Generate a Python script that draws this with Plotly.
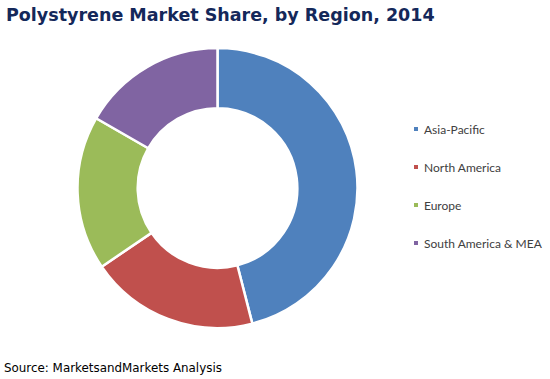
import plotly.graph_objects as go

regions = ["Asia-Pacific", "North America", "Europe", "South America & MEA"]
shares = [46.0, 19.5, 17.8, 16.7]
colors = ["#4F81BD", "#C0504D", "#9BBB59", "#8064A2"]
title_text = "Polystyrene Market Share, by Region, 2014"
source_text = "Source: MarketsandMarkets Analysis"

W, H = 550, 379
cx, cy, r = 217.5, 188, 140

fig = go.Figure(go.Pie(
    labels=regions, values=shares, marker=dict(colors=colors, line=dict(color="white", width=2.5)),
    hole=0.57, sort=False, direction="clockwise", rotation=0, textinfo="none",
    domain=dict(x=[(cx - r) / W, (cx + r) / W], y=[(H - cy - r) / H, (H - cy + r) / H]),
    showlegend=False,
))

annotations = [
    dict(text=title_text, x=4 / W, y=1 - 3 / H, xref="paper", yref="paper", xanchor="left", yanchor="top",
         showarrow=False, font=dict(family="DejaVu Sans", size=17.5, color="#14285A", weight="bold")),
    dict(text=source_text, x=2 / W, y=1 - 359 / H, xref="paper", yref="paper", xanchor="left", yanchor="top",
         showarrow=False, font=dict(family="DejaVu Sans", size=11.9, color="#000000")),
]
shapes = []
leg_x, leg_y0, leg_dy = 416, 129, 38
for i, (lab, col) in enumerate(zip(regions, colors)):
    yy = leg_y0 + i * leg_dy
    shapes.append(dict(type="rect", xref="paper", yref="paper",
                       x0=(leg_x - 2) / W, x1=(leg_x + 2) / W, y0=1 - (yy + 2) / H, y1=1 - (yy - 2) / H,
                       fillcolor=col, line=dict(width=0)))
    annotations.append(dict(text=lab, x=(leg_x + 6) / W, y=1 - yy / H, xref="paper", yref="paper",
                            xanchor="left", yanchor="middle", showarrow=False,
                            font=dict(family="Lato", size=12, color="#404040")))

fig.update_layout(width=W, height=H, margin=dict(l=0, r=0, t=0, b=0), paper_bgcolor="white",
                  plot_bgcolor="white", annotations=annotations, shapes=shapes)
fig.write_html("out.html")
